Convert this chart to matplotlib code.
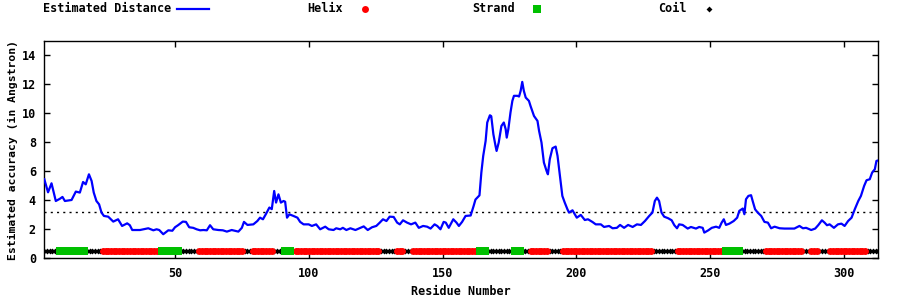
import matplotlib
matplotlib.use("Agg")
import matplotlib.pyplot as plt
from matplotlib.lines import Line2D
import numpy as np

# ---- data ----
residue = [1.0, 2.4, 3.7, 5.3, 6.8, 7.8, 8.7, 11.2, 12.8, 14.3, 15.5, 16.5, 17.7, 18.7, 19.5,
           20.5, 21.5, 22.4, 23.3, 24.9, 26.8, 28.6, 30.1, 32.0, 33.0, 33.9, 36.8, 39.9, 41.8,
           43.0, 44.0, 45.5, 47.4, 48.9, 49.9, 51.1, 52.8, 54.0, 55.2, 56.7, 58.0, 59.3, 60.5,
           61.8, 63.0, 64.2, 66.1, 67.8, 69.3, 71.1, 73.6, 74.9, 75.7, 77.0, 79.2, 80.7, 81.7,
           82.8, 84.0, 85.2, 86.1, 87.0, 87.7, 88.6, 89.5, 90.5, 91.1, 91.8, 92.7, 94.2, 95.7,
           96.7, 98.0, 99.9, 101.1, 102.7, 104.2, 106.1, 107.4, 109.2, 110.2, 111.7, 112.7,
           114.0, 115.5, 117.4, 119.2, 120.5, 122.0, 123.6, 125.2, 126.5, 127.7, 129.0, 130.2,
           131.7, 133.0, 134.0, 135.2, 136.7, 138.2, 139.8, 141.1, 142.7, 144.2, 145.5, 147.0,
           148.0, 149.2, 150.4, 151.2, 152.3, 154.0, 155.2, 156.1, 157.3, 158.6, 160.5, 161.6,
           162.3, 163.8, 164.5, 165.2, 166.1, 166.7, 167.7, 168.2, 169.0, 169.8, 170.2, 171.0,
           172.0, 172.9, 173.6, 174.0, 174.6, 175.4, 176.1, 176.7, 178.0, 178.6, 179.2, 179.8,
           180.4, 181.1, 182.3, 182.9, 184.2, 185.5, 186.1, 187.0, 187.9, 188.9, 189.4, 190.1,
           191.1, 192.3, 193.0, 193.6, 194.2, 194.8, 195.7, 196.7, 197.3, 198.6, 200.2, 201.7,
           203.2, 204.4, 206.1, 207.3, 209.2, 210.4, 212.3, 213.6, 215.2, 216.4, 217.9, 219.4,
           221.1, 222.7, 224.2, 225.7, 227.3, 228.5, 229.4, 230.2, 231.0, 231.9, 232.9, 234.4,
           235.7, 236.7, 237.7, 238.5, 239.8, 241.7, 242.9, 244.8, 246.0, 247.3, 247.9, 249.4,
           250.7, 252.3, 253.5, 254.4, 255.2, 256.0, 257.3, 258.9, 260.2, 261.0, 262.3, 262.9,
           263.5, 264.4, 265.4, 266.0, 266.9, 267.9, 269.2, 270.4, 271.7, 272.9, 274.2, 276.1,
           277.9, 279.8, 281.6, 283.5, 284.8, 286.0, 287.9, 289.4, 290.6, 291.9, 292.9, 293.8,
           294.8, 296.4, 297.9, 299.2, 300.4, 301.7, 303.0, 304.2, 305.5, 306.5, 307.7, 308.6,
           309.8, 310.7, 311.7, 312.3, 313.0]
distance = [5.45, 4.55, 5.17, 3.95, 4.1, 4.23, 3.95, 4.02, 4.6, 4.53, 5.26, 5.1, 5.79, 5.33, 4.53,
            3.95, 3.72, 3.15, 2.92, 2.87, 2.53, 2.69, 2.23, 2.41, 2.28, 1.95, 1.95, 2.07, 1.93,
            2.0, 1.95, 1.66, 1.93, 1.9, 2.14, 2.29, 2.53, 2.51, 2.14, 2.1, 2.0, 1.93, 1.95,
            1.93, 2.28, 2.0, 1.95, 1.93, 1.84, 1.95, 1.84, 2.1, 2.51, 2.3, 2.34, 2.57, 2.8,
            2.69, 3.08, 3.5, 3.39, 4.64, 3.84, 4.41, 3.84, 3.95, 3.9, 2.8, 3.03, 2.92, 2.8,
            2.51, 2.34, 2.34, 2.23, 2.34, 2.0, 2.18, 2.0, 1.95, 2.07, 2.0, 2.1,
            1.95, 2.07, 1.95, 2.1, 2.2, 1.95, 2.14, 2.23, 2.46, 2.69, 2.57, 2.87,
            2.85, 2.46, 2.34, 2.62, 2.46, 2.34, 2.46, 2.1, 2.23, 2.18, 2.05, 2.34,
            2.23, 2.0, 2.51, 2.46, 2.1, 2.69, 2.46, 2.23, 2.51, 2.92, 2.95, 3.6,
            4.05, 4.34, 5.91, 7.06, 8.09, 9.36, 9.86, 9.8, 8.55, 7.75, 7.4, 7.98,
            9.12, 9.36, 8.9, 8.32, 8.9, 10.05, 10.85, 11.2, 11.2, 11.15, 11.54, 12.16,
            11.54, 11.08, 10.85, 10.5, 9.81, 9.47, 8.78, 7.98, 6.6, 6.02, 5.79, 6.83,
            7.59, 7.7, 7.06, 6.14, 5.22, 4.3, 3.84, 3.38, 3.15, 3.31, 2.8, 2.99,
            2.64, 2.69, 2.5, 2.34, 2.34, 2.16, 2.23, 2.07, 2.1, 2.3, 2.1, 2.3,
            2.16, 2.34, 2.3, 2.57, 2.92, 3.15, 3.95, 4.18, 3.95, 3.15, 2.87, 2.76,
            2.62, 2.28, 2.07, 2.34, 2.3, 2.05, 2.16, 2.05, 2.16, 2.1, 1.77, 1.93,
            2.1, 2.18, 2.1, 2.46, 2.69, 2.3, 2.39, 2.57, 2.8, 3.27, 3.43, 3.04,
            4.07, 4.3, 4.35, 3.95, 3.38, 3.15, 2.92, 2.51, 2.46, 2.07, 2.18, 2.07,
            2.05, 2.05, 2.05, 2.23, 2.07, 2.1, 1.95, 2.05, 2.3, 2.62, 2.46, 2.28,
            2.34, 2.1, 2.34, 2.39, 2.23, 2.57, 2.8, 3.38, 3.95, 4.3, 4.99, 5.38,
            5.45, 5.91, 6.14, 6.71, 6.75]

threshold = 3.2
ss_level = 0.5

ss_start = [1, 7, 17, 23, 45, 52, 59, 76, 79, 87, 91, 94, 95, 127, 133, 136, 139, 164, 167, 177,
            180, 183, 190, 195, 229, 238, 256, 262, 271, 285, 288, 291, 295, 309]
ss_end = [6, 16, 22, 44, 51, 58, 75, 78, 86, 90, 93, 94, 126, 132, 135, 138, 163, 166, 176, 179,
          182, 189, 194, 228, 237, 255, 261, 270, 284, 287, 290, 294, 308, 313]
ss_type = ["C", "E", "C", "H", "E", "C", "H", "C", "H", "C", "E", "C", "H", "C", "H", "C", "H", "E",
           "C", "E", "C", "H", "C", "H", "C", "H", "E", "C", "H", "C", "H", "C", "H", "C"]

legend_labels = ["Estimated Distance", "Helix", "Strand", "Coil"]
x_ticks = [50, 100, 150, 200, 250, 300]
y_ticks = [0, 2, 4, 6, 8, 10, 12, 14]

# ---- styles ----
FONT = "DejaVu Sans Mono"
FS = 8.5
blue = "#0000ff"
styles = {
    "H": dict(marker="o", color="#ff0000", ms=5.0),
    "E": dict(marker="s", color="#00c000", ms=5.2),
    "C": dict(marker="D", color="#000000", ms=3.0),
}

fig = plt.figure(figsize=(9, 3), dpi=100)
ax = fig.add_axes([44.3 / 900, 41.7 / 300, (878.3 - 44.3) / 900, (258.3 - 40.7) / 300])

ax.axhline(threshold, color="black", lw=1.0, ls=(0, (1.5, 3)), zorder=1)

# secondary structure strip
for code in ["C", "H", "E"]:
    xs = []
    for s, e, t in zip(ss_start, ss_end, ss_type):
        if t == code:
            xs.extend(range(s, e + 1))
    st = styles[code]
    ax.plot(xs, [ss_level] * len(xs), ls="none", marker=st["marker"], ms=st["ms"],
            color=st["color"], mec=st["color"], mew=0, zorder=2)

ax.plot(residue, distance, color=blue, lw=1.6, zorder=3)

ax.set_xlim(1, 313)
ax.set_ylim(0, 15)
ax.set_xticks(x_ticks)
ax.set_yticks(y_ticks)
ax.tick_params(direction="in", length=4, width=1, top=True, right=True,
               labelsize=FS, pad=6)
for lab in ax.get_xticklabels() + ax.get_yticklabels():
    lab.set_fontfamily(FONT)
    lab.set_fontweight("bold")
for sp in ax.spines.values():
    sp.set_linewidth(1)

ax.set_xlabel("Residue Number", fontfamily=FONT, fontweight="bold", fontsize=FS, labelpad=4)
ax.set_ylabel("Estimated accuracy (in Angstron)", fontfamily=FONT, fontweight="bold",
              fontsize=8.2)
ax.yaxis.set_label_coords((18 - 44.3) / 834.0, 0.5)

# legend row (gnuplot style)
ly = 1 - 9 / 300
text_x = [43, 307, 472, 658]
for lbl, tx in zip(legend_labels, text_x):
    fig.text(tx / 900, ly, lbl, fontfamily=FONT, fontweight="bold", fontsize=FS,
             ha="left", va="center")
fig.add_artist(Line2D([177 / 900, 209 / 900], [ly, ly], color=blue, lw=1.6,
                      transform=fig.transFigure))
for code, mx in zip(["H", "E", "C"], [365, 537, 709]):
    st = styles[code]
    fig.add_artist(Line2D([mx / 900], [ly], ls="none", marker=st["marker"], ms=st["ms"],
                          color=st["color"], mew=0, transform=fig.transFigure))

fig.savefig("out.png", dpi=100)
